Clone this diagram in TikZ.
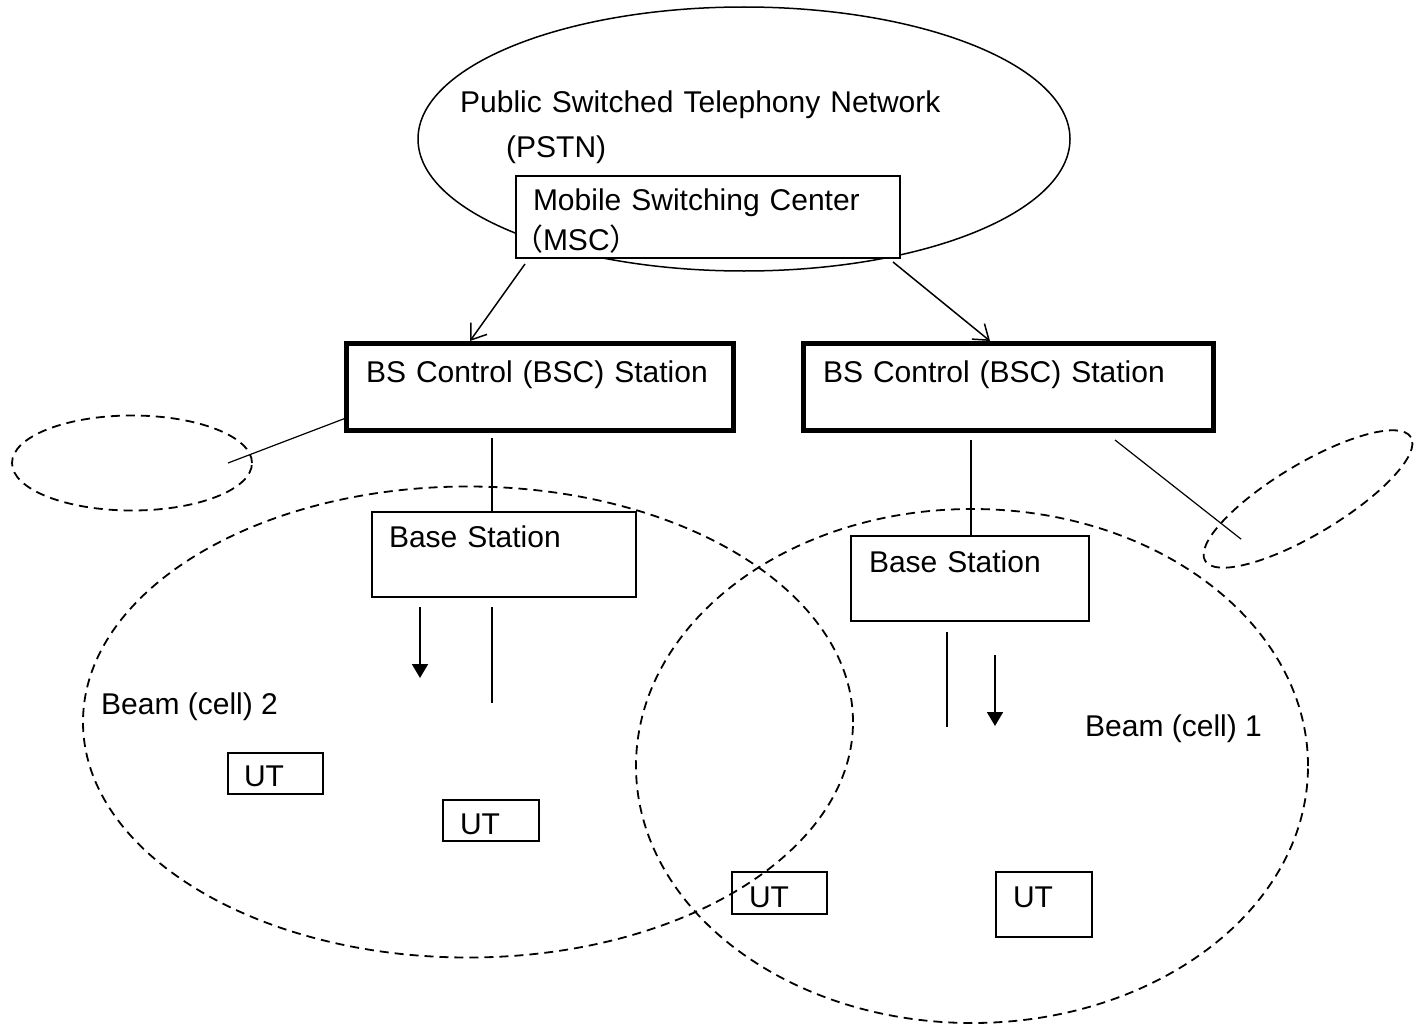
\documentclass[tikz,border=0pt]{standalone}
\usepackage{fontspec}
\setmainfont{Liberation Sans}
\newfontfamily\cjk{Noto Sans CJK JP}
\usetikzlibrary{shapes.geometric,arrows.meta,calc}

\begin{document}
\begin{tikzpicture}[x=1pt,y=-1pt,
  font=\fontsize{30pt}{40pt}\selectfont,
  box/.style={draw, line width=1.5pt, anchor=north west, inner ysep=0pt,
    outer sep=0pt, align=left},
  bscbox/.style={box, line width=5pt, inner xsep=20pt,
    text height=39pt, text depth=48pt},
  bsbox/.style={box, inner xsep=17pt, text height=35pt, text depth=50pt},
  utbox/.style={box, inner xsep=16pt, text width=63pt,
    text height=34pt, text depth=7pt},
  cell/.style={draw, ellipse, inner sep=0pt, outer sep=0pt,
    line width=1.8pt, dash pattern=on 9pt off 6pt},
  link/.style={line width=1.2pt},
  feed/.style={line width=1.5pt, -{Straight Barb[length=14pt,width=20pt]}},
  down/.style={line width=1.8pt, -{Triangle[length=14pt,width=16pt]}}
]

\useasboundingbox (0,0) rectangle (1417,1025);

%% beams (cells) and sectors
\node[cell, minimum width=770pt, minimum height=471pt] (beamL) at (468,722) {};
\node[cell, minimum width=672pt, minimum height=514pt] (beamR) at (972,766) {};
\node[cell, minimum width=240pt, minimum height=95pt] (sectorL) at (132,463) {};
\node[cell, minimum width=240pt, minimum height=70pt, rotate=31] (sectorR)
  at (1308,499) {};

%% core network
\node[draw, ellipse, line width=1.5pt, inner sep=0pt, minimum width=652pt,
  minimum height=264pt] (pstn) at (744,139) {};
\node[anchor=north west, inner sep=0pt, align=left, text width=500pt,
  text height=28pt] (pstntext) at (460,84)
  {Public Switched Telephony Network\\[5pt]\hspace*{46pt}(PSTN)};
\node[box, fill=white, inner xsep=17pt, text width=350pt, text height=34pt,
  text depth=48pt] (msc) at (516,176)
  {Mobile Switching Center\\\hspace*{-20pt}{\cjk （}MSC{\cjk ）}};

%% controllers
\node[bscbox, text width=347pt] (bscL) at (346,343) {BS Control (BSC) Station};
\node[bscbox, text width=370pt] (bscR) at (803,343) {BS Control (BSC) Station};

%% base stations
\node[bsbox, text width=230pt] (bsL) at (372,512) {Base Station};
\node[bsbox, inner xsep=18pt, text width=202pt, text height=36pt,
  text depth=49pt] (bsR) at (851,536) {Base Station};

%% terminals
\node[utbox, text height=33pt, text depth=8pt] (ut1) at (228,753) {UT};
\node[utbox, inner xsep=17pt, text width=62pt] (ut2) at (443,800) {UT};
\node[utbox, inner xsep=17pt, text width=61pt, text height=35pt] (ut3)
  at (732,872) {UT};
\node[utbox, inner xsep=17pt, text width=62pt, text height=35pt,
  text depth=30pt] (ut4) at (996,872) {UT};

%% labels
\node[anchor=base west, inner sep=0pt] (beamLtext) at (101,714) {Beam (cell) 2};
\node[anchor=base west, inner sep=0pt] (beamRtext) at (1085,736) {Beam (cell) 1};

%% msc to bsc
\draw[feed] ($(msc.south west)+(9,6)$) -- ($(bscL.north west)+(124,-2)$);
\draw[feed] ($(msc.south east)+(-7,4)$) -- ($(bscR.north west)+(187,-2)$);

%% bsc to base station
\draw[link] ($(bscL.south west)+(146,8)$) -- ($(bsL.north west)+(120,0)$);
\draw[link] ($(bscR.south west)+(168,10)$) -- ($(bsR.north west)+(120,0)$);

%% bsc to sectors
\draw[link] ($(bscL.south west)+(0,-12)$) -- ($(sectorL.east)+(-24,0)$);
\draw[link] ($(bscR.south east)+(-98,10)$)
  -- ($(sectorR.center)!0.65!(sectorR.west)$);

%% downlink
\draw[link] ($(bsL.south west)+(120,10)$) -- ++(0,96);
\draw[down] ($(bsL.south west)+(48,10)$) -- ++(0,71);
\draw[link] ($(bsR.south west)+(96,11)$) -- ++(0,95);
\draw[down] ($(bsR.south west)+(144,34)$) -- ++(0,71);

\end{tikzpicture}
\end{document}
